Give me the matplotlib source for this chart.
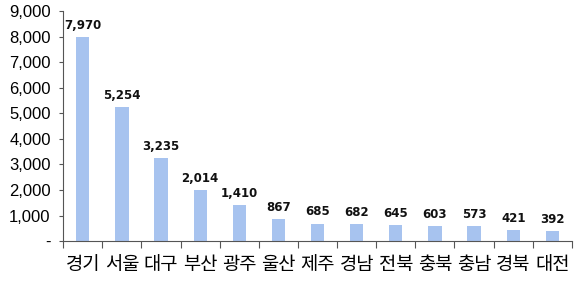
import matplotlib.pyplot as plt
import numpy as np

regions = ['경기', '서울', '대구', '부산', '광주', '울산', '제주', '경남', '전북', '충북', '충남', '경북', '대전']
counts = [7970, 5254, 3235, 2014, 1410, 867, 685, 682, 645, 603, 573, 421, 392]
yticks = [0, 1000, 2000, 3000, 4000, 5000, 6000, 7000, 8000, 9000]

plt.rcParams['font.family'] = ['Noto Sans CJK KR', 'DejaVu Sans']

fig = plt.figure(figsize=(5.8, 2.84), dpi=100)
ax = fig.add_axes([0.109, 0.151, 0.877, 0.81])

x = np.arange(len(regions))
ax.bar(x, counts, width=0.34, color='#A7C3EF')
for xi, v in zip(x, counts):
    ax.text(xi, v + 200, f'{v:,}', ha='center', va='bottom', fontsize=8.5,
            fontweight='bold', family=['DejaVu Sans'], color='#111111')

ax.set_xlim(-0.5, len(regions) - 0.5)
ax.set_ylim(0, 9000)
ax.set_yticks(yticks)
ax.set_yticklabels(['-' if t == 0 else f'{t:,}' for t in yticks],
                   fontsize=12, family=['Liberation Sans'])
ax.set_xticks(np.arange(len(regions) + 1) - 0.5)
ax.set_xticklabels([])
ax.set_xticks(x, minor=True)
ax.set_xticklabels(regions, minor=True, fontsize=13.5)
ax.tick_params(axis='x', which='minor', length=0, pad=9)
ax.tick_params(axis='x', which='major', length=5, color='#555555', direction='out')
ax.tick_params(axis='y', length=3, color='#555555', pad=6)

for s in ['top', 'right']:
    ax.spines[s].set_visible(False)
for s in ['left', 'bottom']:
    ax.spines[s].set_color('#555555')

plt.savefig('out.png', dpi=100)
